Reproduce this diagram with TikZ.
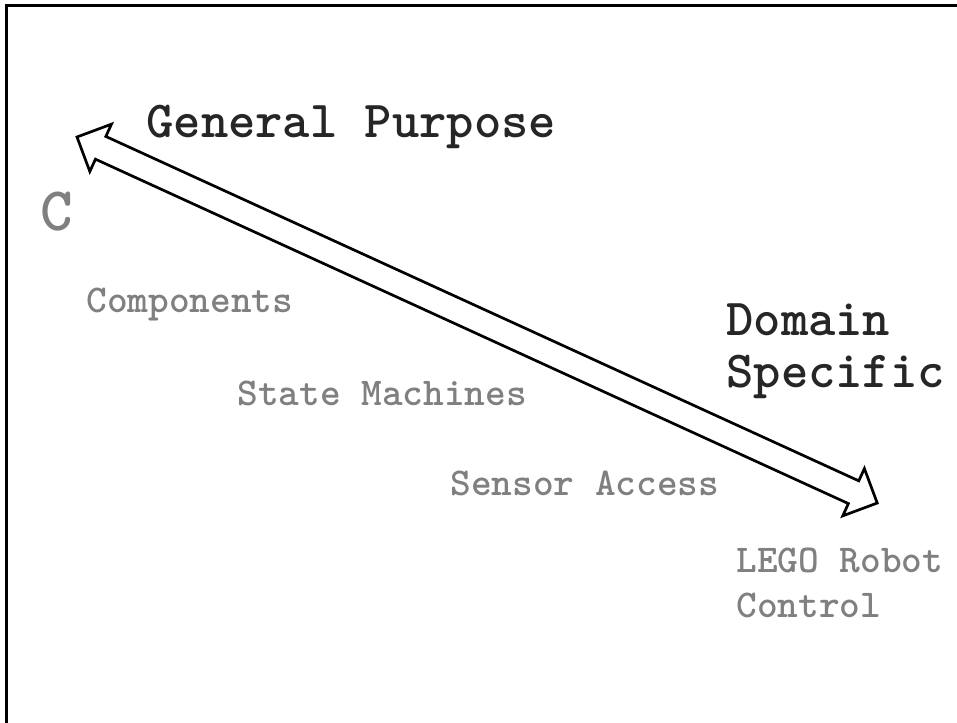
\documentclass[tikz,border=0pt]{standalone}
\usepackage{xcolor}
\usetikzlibrary{calc}
\definecolor{ink}{HTML}{262626}
\definecolor{faint}{HTML}{808080}
\tikzset{
  frameLine/.style={draw=black, line width=1.5pt},
  bigArrow/.style={draw=black, fill=white, line width=1.35pt, line join=miter},
  poleLbl/.style={text=ink, font=\ttfamily\bfseries\fontsize{26}{26}\selectfont,
                  inner sep=0pt, anchor=base west, align=left},
  stepLbl/.style={text=faint, font=\ttfamily\bfseries\fontsize{19.7}{22.5}\selectfont,
                  inner sep=0pt, anchor=base west, align=left},
  langLbl/.style={text=faint, font=\ttfamily\bfseries\fontsize{31}{34}\selectfont,
                  inner sep=0pt, anchor=base west},
}

\begin{document}
\begin{tikzpicture}[x=0.5pt, y=-0.5pt]
  \useasboundingbox (0,0) rectangle (957,722);

  % slide frame, cut at right and bottom
  \draw[frameLine] (6,730) -- (6,6) -- (965,6);

  \coordinate (gpTip) at (77,137);
  \coordinate (dsTip) at (877,503);
  \begin{scope}[shift={(gpTip)}, rotate=-24.58]
    \draw[bigArrow] (0,0) -- (26,-26) -- (26,-12.5) -- (854,-12.5) -- (854,-26)
      -- (880,0) -- (854,26) -- (854,12.5) -- (26,12.5) -- (26,26) -- cycle;
  \end{scope}

  % multi-line nodes sit on the baseline of their last line
  \node[poleLbl] (general) at (146,137) {General Purpose};
  \node[poleLbl] (domain)  at (726,387) {Domain\\Specific};

  \node[langLbl] (c) at (40,230) {C};
  \node[stepLbl] (comp)    at (86,312)  {Components};
  \node[stepLbl] (states)  at (237,405) {State Machines};
  \node[stepLbl] (sensor)  at (450,495) {Sensor Access};
  \node[stepLbl] (lego)    at (736,617) {LEGO Robot\\Control};
\end{tikzpicture}
\end{document}
